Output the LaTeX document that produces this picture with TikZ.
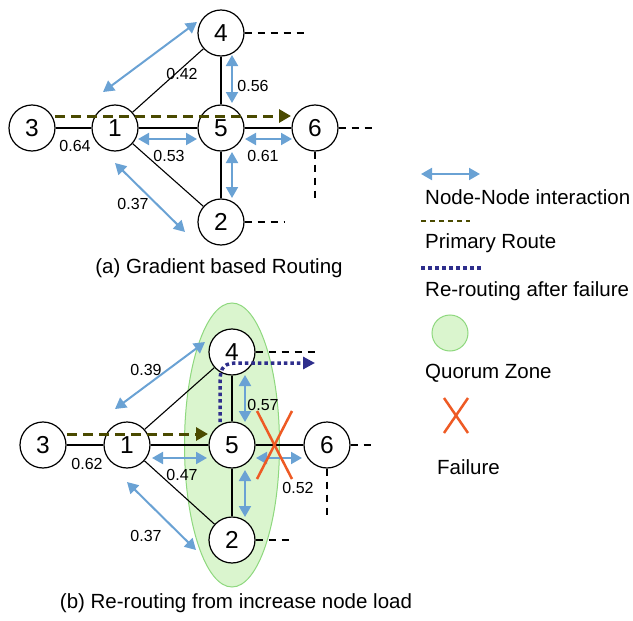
\documentclass[tikz,border=0pt]{standalone}
\usepackage{fontspec}
\setmainfont{Liberation Sans}
\usetikzlibrary{arrows.meta}
\definecolor{ablue}{HTML}{6AA2D4}
\definecolor{routeolive}{HTML}{4A4A00}
\definecolor{navyc}{HTML}{2E2E8C}
\definecolor{qfill}{HTML}{DAF5CE}
\definecolor{qdraw}{HTML}{8ED87E}
\definecolor{failred}{HTML}{EE5A24}
\begin{document}
\begin{tikzpicture}[x=1pt,y=-1pt,
 nd/.style={circle,draw,line width=1.2pt,fill=white,minimum size=46pt,inner sep=0pt,font=\fontsize{24.5}{28}\selectfont},
 edge/.style={line width=1.1pt},
 inter/.style={ablue,line width=2pt,{Triangle[length=11pt,width=12pt]}-{Triangle[length=11pt,width=12pt]}},
 route/.style={routeolive,line width=3pt,dash pattern=on 10pt off 6pt,-{Triangle[length=12pt,width=13pt]}},
 reroute/.style={navyc,line width=3.5pt,dash pattern=on 3.5pt off 3pt,-{Triangle[length=12pt,width=12pt]}},
 stub/.style={line width=1.1pt,dash pattern=on 7pt off 6pt},
 wt/.style={font=\fontsize{16}{19}\selectfont,inner sep=1pt},
 txt/.style={font=\fontsize{20.5}{24}\selectfont,inner sep=0pt},
 fail/.style={failred,line width=2.5pt}]
\useasboundingbox (0,0) rectangle (633,621);

% ---------------- panel (a)
\node[nd] (a3) at (32,128) {3};
\node[nd] (a1) at (115,128) {1};
\node[nd] (a5) at (221,128) {5};
\node[nd] (a4) at (221,33) {4};
\node[nd] (a2) at (221,222) {2};
\node[nd] (a6) at (315,128) {6};
\draw[edge] (a3) -- (a1);
\draw[edge] (a1) -- (a5);
\draw[edge] (a5) -- (a6);
\draw[edge] (a4) -- (a5);
\draw[edge] (a5) -- (a2);
\draw[edge] (a1) -- (a4);
\draw[edge] (a1) -- (a2);
\coordinate (a4s) at (305,33);
\coordinate (a2s) at (284,222);
\coordinate (a6s) at (375,128);
\coordinate (a6d) at (315,198);
\draw[stub] (a4) -- (a4s);
\draw[stub] (a2) -- (a2s);
\draw[stub] (a6) -- (a6s);
\draw[stub] (a6) -- (a6d);
\coordinate (ars) at (55,116);
\coordinate (are) at (291,116);
\draw[route] (ars) -- (are);
\coordinate (ai1) at (103,92);  \coordinate (ai2) at (197,22);
\coordinate (ai3) at (232,55);  \coordinate (ai4) at (232,103);
\coordinate (ai5) at (138,139); \coordinate (ai6) at (197,139);
\coordinate (ai7) at (245,139); \coordinate (ai8) at (292,139);
\coordinate (ai9) at (232,152); \coordinate (ai10) at (232,198);
\coordinate (ai11) at (115,163); \coordinate (ai12) at (185,232);
\draw[inter] (ai1) -- (ai2);
\draw[inter] (ai3) -- (ai4);
\draw[inter] (ai5) -- (ai6);
\draw[inter] (ai7) -- (ai8);
\draw[inter] (ai9) -- (ai10);
\draw[inter] (ai11) -- (ai12);
\node[wt] (aw1) at (182,74) {0.42};
\node[wt] (aw2) at (253,86) {0.56};
\node[wt] (aw3) at (75,146) {0.64};
\node[wt] (aw4) at (169,156) {0.53};
\node[wt] (aw5) at (263,156) {0.61};
\node[wt] (aw6) at (133,204) {0.37};
\node[txt] (capa) at (219,268) {(a) Gradient based Routing};

% ---------------- panel (b)
\draw[qdraw,fill=qfill,line width=1pt] (232,445) ellipse [x radius=47.5pt, y radius=142pt];
\node[nd] (b3) at (43,445) {3};
\node[nd] (b1) at (127,445) {1};
\node[nd] (b5) at (232,445) {5};
\node[nd] (b4) at (232,352) {4};
\node[nd] (b2) at (232,540) {2};
\node[nd] (b6) at (327,445) {6};
\draw[edge] (b3) -- (b1);
\draw[edge] (b1) -- (b5);
\draw[edge] (b5) -- (b6);
\draw[edge] (b4) -- (b5);
\draw[edge] (b5) -- (b2);
\draw[edge] (b1) -- (b4);
\draw[edge] (b1) -- (b2);
\coordinate (b4s) at (317,352);
\coordinate (b2s) at (293,540);
\coordinate (b6s) at (372,445);
\coordinate (b6d) at (327,517);
\draw[stub] (b4) -- (b4s);
\draw[stub] (b2) -- (b2s);
\draw[stub] (b6) -- (b6s);
\draw[stub] (b6) -- (b6d);
\coordinate (brs) at (67,434);
\coordinate (bre) at (208,434);
\draw[route] (brs) -- (bre);
\coordinate (bq1) at (220,422);
\coordinate (bq2) at (220,382);
\coordinate (bq3) at (220,366);
\coordinate (bq3b) at (225,363);
\coordinate (bq4) at (238,363);
\coordinate (bq5) at (315,363);
\draw[reroute] (bq1) -- (bq2) .. controls (bq3) and (bq3b) .. (bq4) -- (bq5);
\coordinate (bi1) at (115,409);  \coordinate (bi2) at (205,342);
\coordinate (bi3) at (245,375);  \coordinate (bi4) at (245,422);
\coordinate (bi5) at (152,458);  \coordinate (bi6) at (207,458);
\coordinate (bi7) at (256,458);  \coordinate (bi8) at (302,458);
\coordinate (bi9) at (245,470);  \coordinate (bi10) at (245,517);
\coordinate (bi11) at (127,482); \coordinate (bi12) at (196,550);
\draw[inter] (bi1) -- (bi2);
\draw[inter] (bi3) -- (bi4);
\draw[inter] (bi5) -- (bi6);
\draw[inter] (bi7) -- (bi8);
\draw[inter] (bi9) -- (bi10);
\draw[inter] (bi11) -- (bi12);
\coordinate (bx1) at (257,411); \coordinate (bx2) at (292,479);
\coordinate (bx3) at (292,411); \coordinate (bx4) at (257,479);
\draw[fail] (bx1) -- (bx2);
\draw[fail] (bx3) -- (bx4);
\node[wt] (bw1) at (146,370) {0.39};
\node[wt] (bw2) at (263,405) {0.57};
\node[wt] (bw3) at (87,464) {0.62};
\node[wt] (bw4) at (182,475) {0.47};
\node[wt] (bw5) at (298,488) {0.52};
\node[wt] (bw6) at (146,536) {0.37};
\node[txt] (capb) at (236,603) {(b) Re-routing from increase node load};

% ---------------- legend
\coordinate (l1a) at (421,174); \coordinate (l1b) at (480,174);
\draw[inter] (l1a) -- (l1b);
\node[txt,anchor=west] (lt1) at (425,197) {Node-Node interaction};
\coordinate (l2a) at (421,221); \coordinate (l2b) at (470,221);
\draw[routeolive,line width=1.5pt,dash pattern=on 5pt off 4pt] (l2a) -- (l2b);
\node[txt,anchor=west] (lt2) at (425,243) {Primary Route};
\coordinate (l3a) at (421,268); \coordinate (l3b) at (481,268);
\draw[navyc,line width=4pt,dash pattern=on 4pt off 3pt] (l3a) -- (l3b);
\node[txt,anchor=west] (lt3) at (425,291) {Re-routing after failure};
\draw[qdraw,fill=qfill,line width=1pt] (450,333) circle [radius=18pt];
\node[txt,anchor=west] (lt4) at (425,373) {Quorum Zone};
\coordinate (l5a) at (444,398); \coordinate (l5b) at (468,433);
\coordinate (l5c) at (468,398); \coordinate (l5d) at (444,433);
\draw[fail] (l5a) -- (l5b);
\draw[fail] (l5c) -- (l5d);
\node[txt,anchor=west] (lt5) at (437,467) {Failure};
\end{tikzpicture}
\end{document}
